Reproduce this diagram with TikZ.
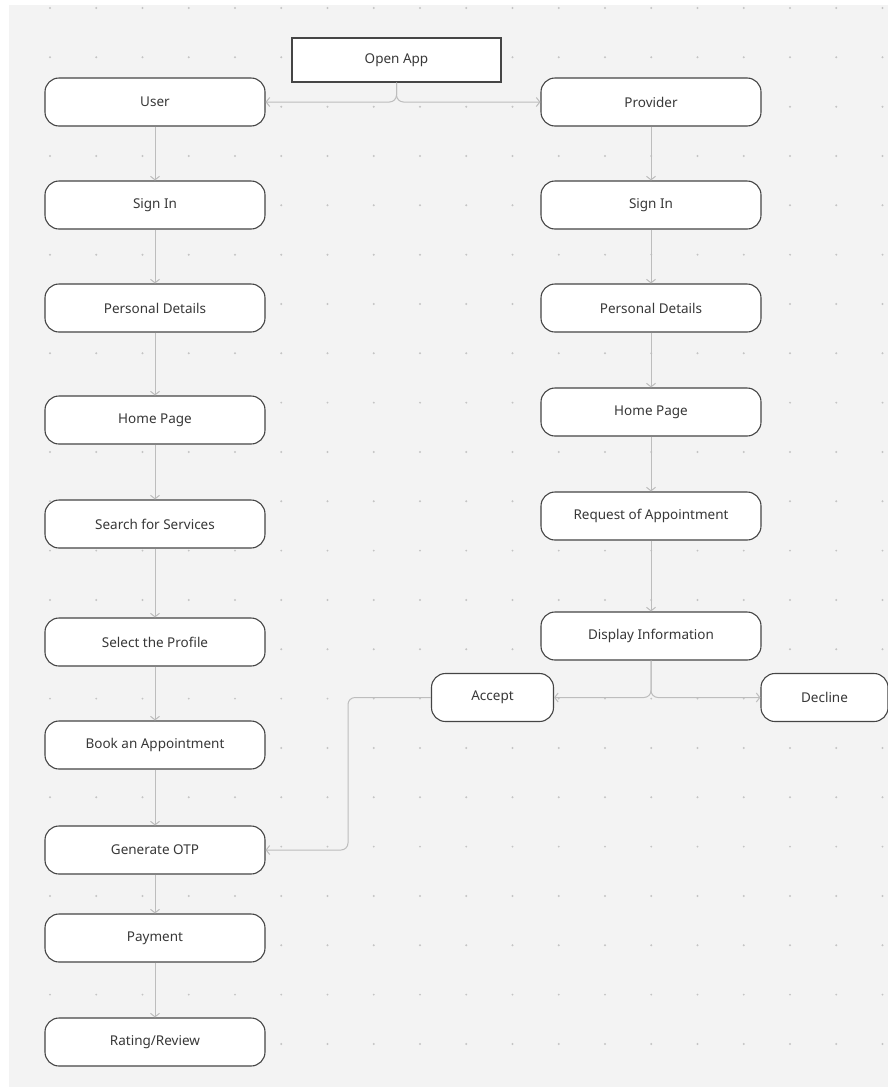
\documentclass[tikz,border=0pt]{standalone}
\usepackage{fontspec}
\setsansfont{Noto Sans}
\usetikzlibrary{arrows.meta,positioning}
\definecolor{canvas}{HTML}{F3F3F3}
\definecolor{dotgray}{HTML}{C4C4C4}
\definecolor{linegray}{HTML}{BDBDBD}
\definecolor{edge}{HTML}{454545}

\begin{document}
\begin{tikzpicture}[x=1pt,y=-1pt,
		box/.style={draw=edge,fill=white,line width=1.1pt,rounded corners=14pt,
			minimum width=220pt,minimum height=48pt,text=black!78,
			font=\sffamily\fontsize{13.5}{15}\selectfont},
		smallbox/.style={box,minimum width=122pt},
		openbox/.style={box,rounded corners=0pt,minimum width=209pt,minimum height=44pt},
		link/.style={draw=linegray,line width=1pt,rounded corners=7pt,
			-{Straight Barb[length=3.5pt,width=9pt]}}
		]
		\useasboundingbox (0,0) rectangle (888,1090);
		\fill[canvas] (9,5) rectangle (888,1087);
		\foreach \i in {0,...,18}
			\foreach \j in {0,...,21}
				\fill[dotgray] (50+46.25*\i,8+49.33*\j) circle (1.1pt);
		
		\node[openbox] (open) at (396.5,60) {Open App};
		
		% user side
		\node[box] (u1) at (155,102) {User};
		\node[box] (u2) at (155,205) {Sign In};
		\node[box] (u3) at (155,308) {Personal Details};
		\node[box] (u4) at (155,420) {Home Page};
		\node[box] (u5) at (155,524) {Search for Services};
		\node[box] (u6) at (155,642) {Select the Profile};
		\node[box] (u7) at (155,745) {Book an Appointment};
		\node[box] (u8) at (155,850) {Generate OTP};
		\node[box] (u9) at (155,938) {Payment};
		\node[box] (u10) at (155,1042) {Rating/Review};
		
		% provider side
		\node[box] (p1) at (651,102) {Provider};
		\node[box] (p2) at (651,205) {Sign In};
		\node[box] (p3) at (651,308) {Personal Details};
		\node[box] (p4) at (651,412) {Home Page};
		\node[box] (p5) at (651,516) {Request of Appointment};
		\node[box] (p6) at (651,636) {Display Information};
		\node[smallbox] (acc) at (492.5,697.5) {Accept};
		\node[smallbox,minimum width=127pt] (dec) at (824.5,697.5) {Decline};
		
		\foreach \a/\b in {1/2,2/3,3/4,4/5,5/6,6/7,7/8,8/9,9/10}
			\draw[link] (u\a) -- (u\b);
		\foreach \a/\b in {1/2,2/3,3/4,4/5,5/6}
			\draw[link] (p\a) -- (p\b);
		
		\draw[link] (open.south) -- (open.south |- u1.east) -- (u1.east);
		\draw[link] (open.south) -- (open.south |- p1.west) -- (p1.west);
		\draw[link] (p6.south) -- (p6.south |- acc.east) -- (acc.east);
		\draw[link] (p6.south) -- (p6.south |- dec.west) -- (dec.west);
		\coordinate (bend) at (348,697.5);
		\draw[link] (acc.west) -- (bend) -- (bend |- u8.east) -- (u8.east);
	\end{tikzpicture}
\end{document}
